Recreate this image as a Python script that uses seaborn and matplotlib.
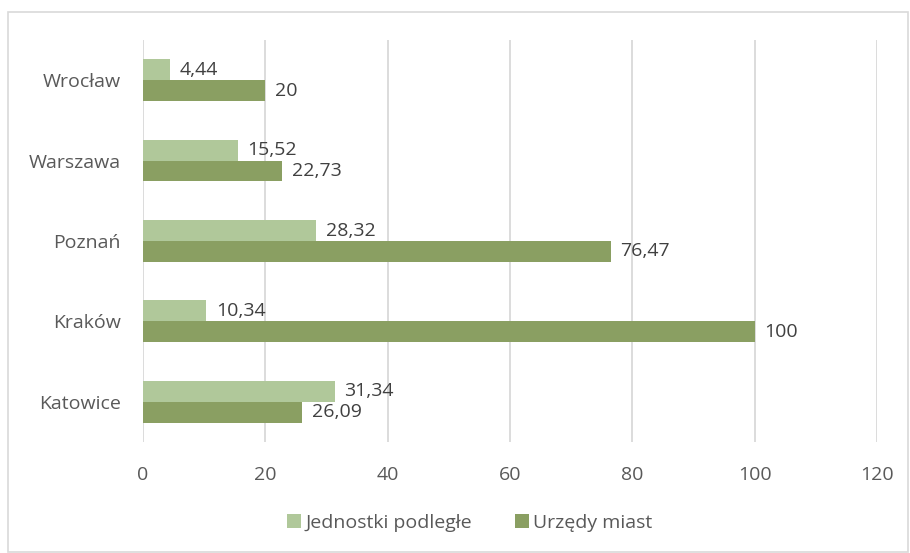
import pandas as pd
import matplotlib.pyplot as plt
import seaborn as sns
from matplotlib.patches import Rectangle

# data
cities = ["Wrocław", "Warszawa", "Poznań", "Kraków", "Katowice"]
jednostki = [4.44, 15.52, 28.32, 10.34, 31.34]
urzedy = [20, 22.73, 76.47, 100, 26.09]
series = ["Jednostki podległe", "Urzędy miast"]
xticks = [0, 20, 40, 60, 80, 100, 120]

df = pd.DataFrame({
    "miasto": cities * 2,
    "wartosc": jednostki + urzedy,
    "seria": [series[0]] * len(cities) + [series[1]] * len(cities),
})

sns.set_style("white")
plt.rcParams["font.family"] = ["Open Sans", "DejaVu Sans"]
txt = "#595959"
fs = 14

fig = plt.figure(figsize=(9.1, 5.53), dpi=100)
ax = fig.add_axes([0.157, 0.2007, 0.8066, 0.727])

sns.barplot(data=df, y="miasto", x="wartosc", hue="seria", order=cities,
            hue_order=series, palette=["#b0c89a", "#8a9f62"], orient="h",
            width=0.52, saturation=1, errorbar=None, ax=ax, legend=True,
            linewidth=0)

# value labels with comma decimals
for cont in ax.containers:
    labs = [f"{v:g}".replace(".", ",") for v in cont.datavalues]
    ax.bar_label(cont, labels=labs, padding=7, fontsize=fs, color="#404040")

ax.set_xlim(0, 120)
ax.set_xticks(xticks)
ax.set_xticklabels([str(t) for t in xticks])
ax.grid(axis="x", color="#d9d9d9", linewidth=1.3)
ax.set_axisbelow(True)
for s in ax.spines.values():
    s.set_visible(False)
ax.set_xlabel("")
ax.set_ylabel("")
ax.tick_params(axis="both", length=0, labelsize=fs, labelcolor=txt)
ax.tick_params(axis="x", pad=17)
ax.tick_params(axis="y", pad=16)

h, l = ax.get_legend_handles_labels()
ax.get_legend().remove()
fig.legend(h, l, loc="center", bbox_to_anchor=(0.516, 0.054), ncol=2,
           frameon=False, fontsize=fs, labelcolor=txt, handlelength=0.75,
           handleheight=0.75, handletextpad=0.2, columnspacing=2.2)

# outer frame like the original chart area
fig.patches.append(Rectangle((8 / 910, 0.002), 900 / 910, 1 - 12 / 553 - 0.002,
                             transform=fig.transFigure, fill=False,
                             edgecolor="#d9d9d9", linewidth=1.2))

fig.savefig("out.png", dpi=100)
